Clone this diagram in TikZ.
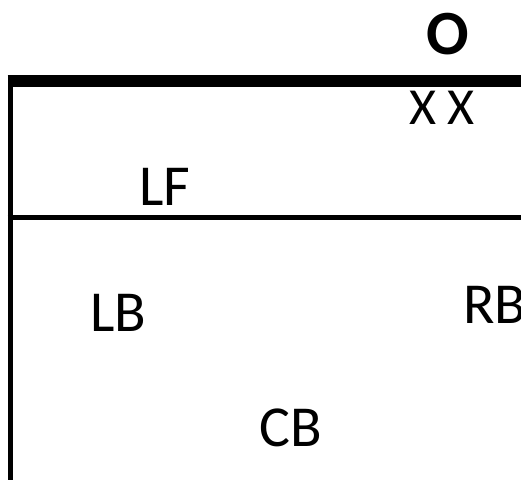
\documentclass[tikz,border=0pt]{standalone}
\usepackage{fontspec}
\setmainfont{Carlito}
\tikzset{
  lbl/.style={inner sep=0pt, font=\fontsize{58}{62}\selectfont},
  xlbl/.style={inner sep=0pt, font=\fontsize{52}{56}\selectfont},
  olbl/.style={inner sep=0pt, font=\fontsize{63}{68}\selectfont\bfseries},
  thickline/.style={line width=12pt, line cap=butt},
  thinline/.style={line width=5pt, line cap=butt}
}
\begin{document}
\begin{tikzpicture}[x=1pt,y=-1pt]
\useasboundingbox (0,0) rectangle (521,480);
\fill[white] (0,0) rectangle (521,480);
\draw[thinline] (10,75) -- (10,480);
\draw[thinline] (7.5,217) -- (521,217);
\draw[thickline] (7.5,81) -- (521,81);
\node[olbl] (o) at (447.5,34) {O};
\node[xlbl] (xx) at (442,107.5) {X X};
\node[lbl] (lf) at (165,187) {LF};
\node[lbl] (lb) at (118,313) {LB};
\node[lbl] (rb) at (495,305) {RB};
\node[lbl] (cb) at (291,428) {CB};
\end{tikzpicture}
\end{document}
